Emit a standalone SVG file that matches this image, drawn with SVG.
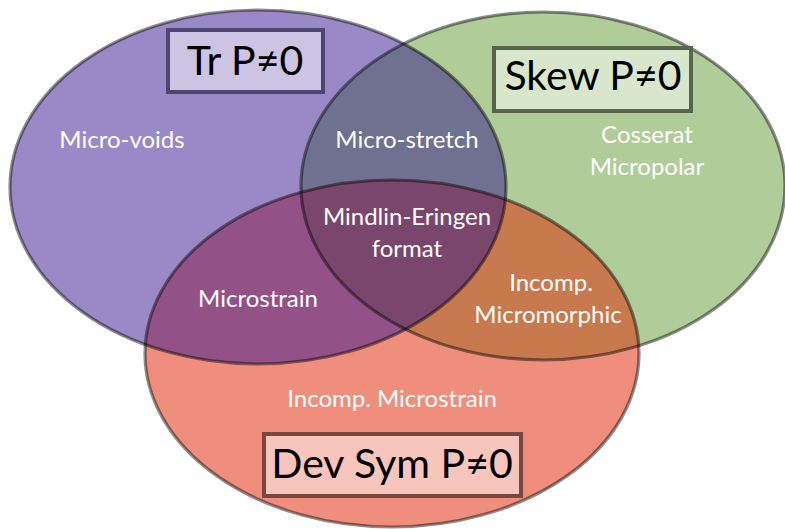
<svg xmlns="http://www.w3.org/2000/svg" width="785" height="529" viewBox="0 0 785 529">
<style>
.lbl{font-family:"Lato","Open Sans","Liberation Sans",sans-serif;font-size:24px;fill:#ffffff;text-anchor:middle}
.big{font-family:"Lato","Open Sans","Liberation Sans",sans-serif;font-size:41px;fill:#000000;text-anchor:middle}
.edge{fill:none;stroke:#000;stroke-opacity:0.45;stroke-width:3.2}
.box{stroke-width:4}
</style>
<defs>
<clipPath id="cP"><ellipse cx="258" cy="187" rx="248" ry="177"/></clipPath>
<clipPath id="cG"><ellipse cx="543" cy="186" rx="242" ry="174"/></clipPath>
</defs>
<rect width="785" height="529" fill="#ffffff"/>
<g id="fills">
<ellipse cx="258" cy="187" rx="248" ry="177" fill="#9a89c7"/>
<ellipse cx="543" cy="186" rx="242" ry="174" fill="#b0cc99"/>
<ellipse cx="392" cy="353.5" rx="247" ry="173.5" fill="#f08e7e"/>
<ellipse cx="543" cy="186" rx="242" ry="174" fill="#707090" clip-path="url(#cP)"/>
<ellipse cx="392" cy="353.5" rx="247" ry="173.5" fill="#935287" clip-path="url(#cP)"/>
<ellipse cx="392" cy="353.5" rx="247" ry="173.5" fill="#c87a4e" clip-path="url(#cG)"/>
<g clip-path="url(#cG)"><ellipse cx="392" cy="353.5" rx="247" ry="173.5" fill="#7b466c" clip-path="url(#cP)"/></g>
</g>
<g id="set-tr">
<ellipse class="edge" cx="258" cy="187" rx="248" ry="177"/>
<rect class="box" x="168" y="30" width="155" height="62" fill="#cdc4e4" stroke="#4e4670"/>
<text class="big" x="245" y="75">Tr P≠0</text>
</g>
<g id="set-skew">
<ellipse class="edge" cx="543" cy="186" rx="242" ry="174"/>
<rect class="box" x="494" y="48" width="197" height="63" fill="#d8e6cc" stroke="#56664a"/>
<text class="big" x="593" y="90">Skew P≠0</text>
</g>
<g id="set-devsym">
<ellipse class="edge" cx="392" cy="353.5" rx="247" ry="173.5"/>
<rect class="box" x="264" y="434" width="257" height="62" fill="#f7c5bc" stroke="#7a4640"/>
<text class="big" x="392" y="478">Dev Sym P≠0</text>
</g>
<g id="labels">
<text class="lbl" x="122" y="148">Micro-voids</text>
<text class="lbl" x="407" y="148">Micro-stretch</text>
<text class="lbl" x="647" y="143">Cosserat</text>
<text class="lbl" x="647" y="175">Micropolar</text>
<text class="lbl" x="407" y="225">Mindlin-Eringen</text>
<text class="lbl" x="407" y="257">format</text>
<text class="lbl" x="258" y="307">Microstrain</text>
<text class="lbl" x="551" y="291">Incomp.</text>
<text class="lbl" x="548" y="323">Micromorphic</text>
<text class="lbl" x="392" y="407">Incomp. Microstrain</text>
</g>
<g id="connectors"/>
</svg>
